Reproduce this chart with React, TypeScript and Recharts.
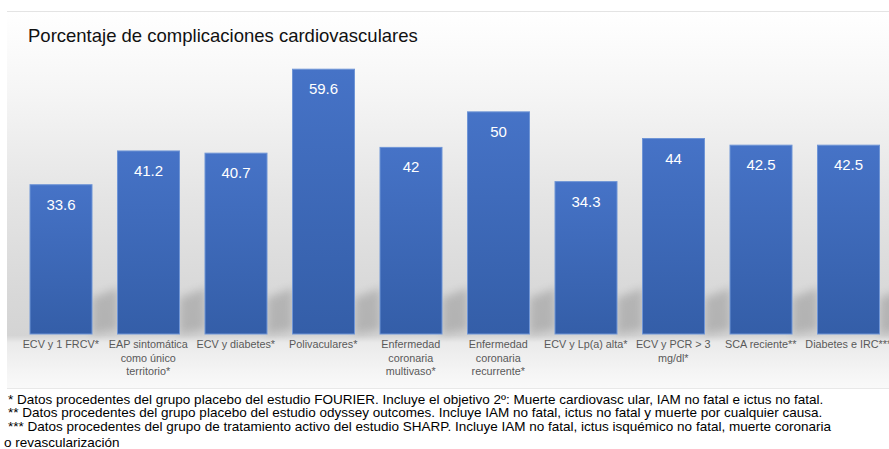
import { BarChart, Bar, XAxis, YAxis, LabelList } from 'recharts';

const categories = [
  'ECV y 1 FRCV*',
  'EAP sintomática como único territorio*',
  'ECV y diabetes*',
  'Polivaculares*',
  'Enfermedad coronaria multivaso*',
  'Enfermedad coronaria recurrente*',
  'ECV y Lp(a) alta*',
  'ECV y PCR > 3 mg/dl*',
  'SCA reciente**',
  'Diabetes e IRC***',
];

const tickLines = [
  ['ECV y 1 FRCV*'],
  ['EAP sintomática', 'como único', 'territorio*'],
  ['ECV y diabetes*'],
  ['Polivaculares*'],
  ['Enfermedad', 'coronaria', 'multivaso*'],
  ['Enfermedad', 'coronaria', 'recurrente*'],
  ['ECV y Lp(a) alta*'],
  ['ECV y PCR > 3', 'mg/dl*'],
  ['SCA reciente**'],
  ['Diabetes e IRC***'],
];

const values = [33.6, 41.2, 40.7, 59.6, 42, 50, 34.3, 44, 42.5, 42.5];

const title = 'Porcentaje de complicaciones cardiovasculares';

const footnotes = [
  '* Datos procedentes del grupo placebo del estudio FOURIER. Incluye el objetivo 2º: Muerte cardiovasc ular, IAM no fatal e ictus no fatal.',
  '** Datos procedentes del grupo placebo del estudio odyssey outcomes. Incluye IAM no fatal, ictus no fatal y muerte por cualquier causa.',
  '*** Datos procedentes del grupo de tratamiento activo del estudio SHARP. Incluye IAM no fatal, ictus isquémico no fatal, muerte coronaria',
  'o revascularización',
];

const data = categories.map((name, i) => ({ name, value: values[i] }));

const FONT = '"Liberation Sans", Arial, Helvetica, sans-serif';

const CategoryTick = (props: any) => {
  const { x, y, index } = props;
  const lines = tickLines[index] || [];
  return (
    <g>
      {lines.map((line: string, i: number) => (
        <text
          key={i}
          x={x}
          y={y + 14 + i * 13.5}
          textAnchor="middle"
          fontSize={10.8}
          fontFamily={FONT}
          fill="#595959"
        >
          {line}
        </text>
      ))}
    </g>
  );
};

const BarWithShadow = (props: any) => {
  const { x, y, width, height } = props;
  const bottom = y + height;
  const r = x + width;
  return (
    <g>
      <polygon
        points={`${r},${bottom - 36} ${r + 26},${bottom - 46} ${r + 26},${bottom - 4} ${r},${bottom}`}
        fill="#8a8a8a"
        opacity={0.45}
        filter="url(#shadowBlur)"
      />
      <rect x={x} y={y} width={width} height={height} fill="url(#barFill)" stroke="#6f95d6" strokeWidth={1} />
    </g>
  );
};

const ValueLabel = (props: any) => {
  const { x, y, width, value } = props;
  return (
    <text
      x={x + width / 2}
      y={y + 25}
      textAnchor="middle"
      fontSize={15}
      fontFamily={FONT}
      fill="#ffffff"
    >
      {value}
    </text>
  );
};

const App = () => {
  return (
    <div
      style={{
        position: 'absolute',
        left: 0,
        top: 0,
        width: 889,
        height: 449,
        overflow: 'hidden',
        background: '#ffffff',
        fontFamily: FONT,
      }}
    >
      <div
        style={{
          position: 'absolute',
          left: 7,
          top: 11,
          width: 890,
          height: 376,
          borderTop: '1px solid #e4e4e4',
          borderBottom: '1px solid #e8e8e8',
          background:
            'linear-gradient(to bottom, #ffffff 0%, #f5f5f5 22%, #e4e4e4 50%, #d8d8d8 75%, #d4d4d4 86%, #eaeaea 88%, #f5f5f5 96%, #f9f9f9 100%)',
        }}
      />
      <div
        style={{
          position: 'absolute',
          left: 28,
          top: 25,
          fontSize: 18.5,
          color: '#111111',
          whiteSpace: 'nowrap',
          lineHeight: '22px',
        }}
      >
        {title}
      </div>
      <div style={{ position: 'absolute', left: 0, top: 0 }}>
        <BarChart
          width={900}
          height={449}
          data={data}
          margin={{ top: 23, right: 8, bottom: 65, left: 17 }}
        >
          <defs>
            <linearGradient id="barFill" x1="0" y1="0" x2="0" y2="1">
              <stop offset="0%" stopColor="#4673c7" />
              <stop offset="100%" stopColor="#345ea8" />
            </linearGradient>
            <filter id="shadowBlur" x="-50%" y="-50%" width="200%" height="200%">
              <feGaussianBlur stdDeviation="4" />
            </filter>
          </defs>
          <XAxis
            dataKey="name"
            height={50}
            interval={0}
            axisLine={false}
            tickLine={false}
            tickSize={0}
            tickMargin={0}
            tick={<CategoryTick />}
          />
          <YAxis hide domain={[0, 70]} />
          <Bar dataKey="value" barSize={62} shape={<BarWithShadow />} isAnimationActive={false}>
            <LabelList dataKey="value" content={<ValueLabel />} />
          </Bar>
        </BarChart>
      </div>
      {footnotes.map((line, i) => (
        <div
          key={i}
          style={{
            position: 'absolute',
            left: i === 3 ? 4 : 8,
            top: [394, 407, 421, 437][i],
            fontSize: 13.5,
            lineHeight: '12px',
            color: '#000000',
            whiteSpace: 'nowrap',
          }}
        >
          {line}
        </div>
      ))}
    </div>
  );
};

export default App;
